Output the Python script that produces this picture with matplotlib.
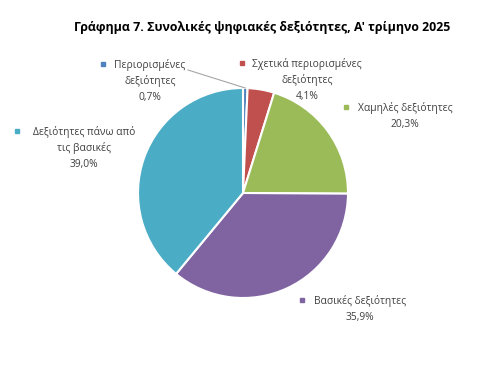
import matplotlib
matplotlib.use("Agg")
import matplotlib.pyplot as plt
import numpy as np

categories = ["Περιορισμένες\nδεξιότητες", "Σχετικά περιορισμένες\nδεξιότητες",
              "Χαμηλές δεξιότητες", "Βασικές δεξιότητες",
              "Δεξιότητες πάνω από\nτις βασικές"]
values = [0.7, 4.1, 20.3, 35.9, 39.0]
value_labels = ["0,7%", "4,1%", "20,3%", "35,9%", "39,0%"]
colors = ["#4F81BD", "#C0504D", "#9BBB59", "#8064A2", "#4BACC6"]
title = "Γράφημα 7. Συνολικές ψηφιακές δεξιότητες, Α' τρίμηνο 2025"

plt.rcParams['font.family'] = ['Open Sans', 'DejaVu Sans']

W, H = 503, 367
fig = plt.figure(figsize=(W / 100, H / 100), dpi=100)
ax = fig.add_axes([0, 0, 1, 1])

cx, cy, r = 243, H - 193, 105
wedges, _ = ax.pie(values, colors=colors, startangle=90, counterclock=False,
                   center=(cx, cy), radius=r, frame=True,
                   wedgeprops=dict(edgecolor='white', linewidth=1.5))
ax.set_xlim(0, W)
ax.set_ylim(0, H)
ax.set_aspect('equal')
ax.axis('off')

fig.text(262 / W, 1 - 28 / H, title, ha='center', va='center',
         fontsize=8.9, fontweight='bold', color='#000000')

# label layout: (marker x, marker y, text center x, first-line y) in pixels
label_pos = [(103, 64, 150, 65), (242, 63, 307, 64), (346, 107, 405, 108),
             (302, 300, 360, 301), (17, 131, 84, 132)]
for i, (mx, my, tx, ty) in enumerate(label_pos):
    lines = categories[i].split("\n") + [value_labels[i]]
    for j, line in enumerate(lines):
        ax.text(tx, H - (ty + 16.3 * j), line, ha='center', va='center',
                fontsize=7.4, color='#404040')
    ax.plot([mx], [H - my], marker='s', markersize=3.2, color=colors[i], linestyle='none')

# leader line for the smallest slice
w0 = wedges[0]
ang = np.deg2rad((w0.theta1 + w0.theta2) / 2)
ex, ey = cx + r * np.cos(ang), cy + r * np.sin(ang)
ax.plot([188, ex], [H - 70, ey], color='#A6A6A6', linewidth=0.8)

fig.savefig("out.png", dpi=100)
